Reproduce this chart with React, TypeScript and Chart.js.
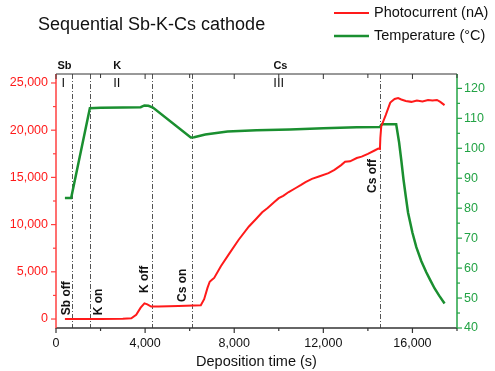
import { useEffect, useRef } from "react";
import { Chart, registerables } from "chart.js";

Chart.register(...registerables);

// ---- data ----
const photoTime = [400, 1000, 2000, 3000, 3380, 3600, 3800, 3970, 4100, 4270, 4600, 5500, 6500, 6650, 6800, 6900, 7000, 7100, 7400, 7770, 8200, 8660, 9000, 9256, 9500, 9800, 10000, 10200, 10446, 10744, 11000, 11200, 11488, 11800, 12232, 12500, 12800, 12976, 13200, 13500, 13720, 14000, 14300, 14464, 14540, 14560, 14600, 14800, 15000, 15060, 15200, 15357, 15500, 15700, 15952, 16200, 16450, 16700, 16900, 17100, 17250, 17440];
const photoValue = [0, 0, 10, 20, 80, 450, 1200, 1660, 1550, 1320, 1320, 1380, 1450, 2100, 3300, 3950, 4150, 4350, 5600, 6900, 8400, 9800, 10650, 11300, 11750, 12400, 12800, 13050, 13450, 13850, 14200, 14500, 14850, 15100, 15450, 15800, 16300, 16650, 16700, 17050, 17200, 17500, 17850, 18050, 18000, 19200, 20400, 21600, 22900, 23050, 23300, 23400, 23250, 23100, 23000, 23150, 23050, 23200, 23150, 23200, 23000, 22650];

const tempTime = [400, 680, 1520, 2000, 3000, 3800, 3970, 4150, 4350, 6050, 6200, 6700, 7700, 9000, 10500, 12000, 13500, 14540, 14620, 15270, 15400, 15500, 15600, 15700, 15804, 16000, 16174, 16400, 16621, 16800, 16996, 17200, 17442];
const tempValue = [83.4, 83.4, 113.4, 113.5, 113.6, 113.7, 114.3, 114.2, 113.6, 103.6, 103.7, 104.6, 105.6, 106.0, 106.3, 106.7, 107.0, 107.1, 108.0, 108.0, 102, 96, 89.5, 84, 78.5, 71.8, 67, 62.3, 58.6, 56, 53.2, 50.8, 48.2];

const xTicks = [0, 2000, 4000, 6000, 8000, 10000, 12000, 14000, 16000, 18000];
const xLabelTicks = [0, 4000, 8000, 12000, 16000];
const leftTicks = [0, 2500, 5000, 7500, 10000, 12500, 15000, 17500, 20000, 22500, 25000];
const leftLabelTicks = [0, 5000, 10000, 15000, 20000, 25000];
const rightTicks = [40, 45, 50, 55, 60, 65, 70, 75, 80, 85, 90, 95, 100, 105, 110, 115, 120];
const rightLabelTicks = [40, 50, 60, 70, 80, 90, 100, 110, 120];

const eventTimes = [700, 1520, 4320, 6100, 14550];
const eventLabels = ["Sb off", "K on", "K off", "Cs on", "Cs off"];
const eventLabelTime = [478, 1933, 3973, 5683, 14196];
const eventLabelValue = [400, 400, 2750, 1800, 13350];

const stageLabels = ["Sb", "K", "Cs"];
const stageTime = [380, 2745, 10075];
const romanLabels = ["I", "II", "III"];
const romanTime = [330, 2730, 10000];
const romanValue = [24900, 24900, 24900];

const RED = "#ff1a1a";
const GREEN = "#1a8f30";
const AXRED = "#ff4040";
const AXGREEN = "#23a345";
const FONT = "'Liberation Sans', Arial, sans-serif";

const overlay = {
  id: "overlay",
  beforeDatasetsDraw(chart: any) {
    const { ctx, chartArea, scales } = chart;
    ctx.save();
    ctx.strokeStyle = "#555";
    ctx.lineWidth = 1;
    ctx.setLineDash([5, 2, 1, 2]);
    eventTimes.forEach((t) => {
      const x = Math.round(scales.x.getPixelForValue(t)) + 0.5;
      ctx.beginPath();
      ctx.moveTo(x, chartArea.top);
      ctx.lineTo(x, chartArea.bottom);
      ctx.stroke();
    });
    ctx.restore();
  },
  afterDraw(chart: any) {
    const { ctx, chartArea, scales } = chart;
    const { left, right, top, bottom } = chartArea;
    ctx.save();
    ctx.setLineDash([]);
    const line = (x1: number, y1: number, x2: number, y2: number, c: string, w: number) => {
      ctx.strokeStyle = c;
      ctx.lineWidth = w;
      ctx.beginPath();
      ctx.moveTo(x1, y1);
      ctx.lineTo(x2, y2);
      ctx.stroke();
    };
    line(left, top, right, top, "#333", 1);
    line(left, bottom, right, bottom, "#333", 1.5);
    line(left, top, left, bottom + 0.75, AXRED, 1.5);
    line(right, top, right, bottom + 0.75, AXGREEN, 1.5);
    xTicks.forEach((v) => {
      const x = scales.x.getPixelForValue(v);
      const major = xLabelTicks.includes(v);
      line(x, bottom, x, bottom + (major ? 5 : 3), "#333", 1.2);
      line(x, top, x, top + (major ? 5 : 4), "#333", 1);
    });
    leftTicks.forEach((v) => {
      const y = scales.y.getPixelForValue(v);
      const major = leftLabelTicks.includes(v);
      line(left, y, left - (major ? 5 : 3), y, AXRED, 1.2);
    });
    rightTicks.forEach((v) => {
      const y = scales.y2.getPixelForValue(v);
      const major = rightLabelTicks.includes(v);
      line(right, y, right + (major ? 5 : 3), y, AXGREEN, 1.2);
    });
    ctx.fillStyle = "#111";
    ctx.font = `bold 12px ${FONT}`;
    ctx.textAlign = "left";
    ctx.textBaseline = "middle";
    eventLabels.forEach((lab, i) => {
      const x = scales.x.getPixelForValue(eventLabelTime[i]);
      const y = scales.y.getPixelForValue(eventLabelValue[i]);
      ctx.save();
      ctx.translate(x, y);
      ctx.rotate(-Math.PI / 2);
      ctx.fillText(lab, 0, 0);
      ctx.restore();
    });
    ctx.textAlign = "center";
    ctx.font = `bold 11px ${FONT}`;
    stageLabels.forEach((lab, i) => {
      ctx.fillText(lab, scales.x.getPixelForValue(stageTime[i]), top - 8);
    });
    ctx.font = `13px ${FONT}`;
    romanLabels.forEach((lab, i) => {
      ctx.fillText(lab, scales.x.getPixelForValue(romanTime[i]), scales.y.getPixelForValue(romanValue[i]));
    });
    ctx.textAlign = "left";
    ctx.fillStyle = "#111";
    ctx.font = `18px ${FONT}`;
    ctx.fillText("Sequential Sb-K-Cs cathode", 38, 25);
    ctx.font = `14.5px ${FONT}`;
    line(334, 13, 369, 13, RED, 2);
    line(334, 36, 369, 36, GREEN, 2.5);
    ctx.fillStyle = "#111";
    ctx.fillText("Photocurrent (nA)", 374, 13);
    ctx.fillText("Temperature (\u00B0C)", 374, 36);
    ctx.restore();
  },
};

export default function App() {
  const ref = useRef<HTMLCanvasElement | null>(null);
  useEffect(() => {
    if (!ref.current) return;
    const chart = new Chart(ref.current, {
      type: "line",
      data: {
        datasets: [
          {
            label: "Photocurrent (nA)",
            data: photoTime.map((t, i) => ({ x: t, y: photoValue[i] })),
            borderColor: RED,
            borderWidth: 2,
            pointRadius: 0,
            yAxisID: "y",
            xAxisID: "x",
          },
          {
            label: "Temperature (\u00B0C)",
            data: tempTime.map((t, i) => ({ x: t, y: tempValue[i] })),
            borderColor: GREEN,
            borderWidth: 2.5,
            pointRadius: 0,
            yAxisID: "y2",
            xAxisID: "x",
          },
        ],
      },
      options: {
        responsive: false,
        animation: false,
        devicePixelRatio: 1,
        layout: { padding: { top: 74, left: 0, right: 0, bottom: 0 } },
        plugins: { legend: { display: false }, tooltip: { enabled: false }, title: { display: false } },
        scales: {
          x: {
            type: "linear",
            position: "bottom",
            min: 0,
            max: 18000,
            afterBuildTicks: (axis: any) => {
              axis.ticks = xTicks.map((v) => ({ value: v }));
            },
            afterFit: (s: any) => {
              s.height = 43;
            },
            grid: { display: false, drawTicks: false },
            border: { display: false },
            ticks: {
              autoSkip: false,
              maxRotation: 0,
              padding: 8,
              color: "#111",
              font: { family: FONT, size: 12.5 },
              callback: (v: any) => (xLabelTicks.includes(v) ? Number(v).toLocaleString("en-US") : ""),
            },
            title: {
              display: true,
              text: "Deposition time (s)",
              color: "#111",
              font: { family: FONT, size: 14.5 },
              padding: { top: 2, bottom: 0 },
            },
          },
          y: {
            type: "linear",
            position: "left",
            min: -950,
            max: 25950,
            afterBuildTicks: (axis: any) => {
              axis.ticks = leftTicks.map((v) => ({ value: v }));
            },
            afterFit: (s: any) => {
              s.width = 56;
            },
            grid: { display: false, drawTicks: false },
            border: { display: false },
            ticks: {
              autoSkip: false,
              padding: 8,
              color: RED,
              font: { family: FONT, size: 12.5 },
              callback: (v: any) => (leftLabelTicks.includes(v) ? Number(v).toLocaleString("en-US") : ""),
            },
          },
          y2: {
            type: "linear",
            position: "right",
            min: 40,
            max: 124.8,
            afterBuildTicks: (axis: any) => {
              axis.ticks = rightTicks.map((v) => ({ value: v }));
            },
            afterFit: (s: any) => {
              s.width = 38;
            },
            grid: { display: false, drawTicks: false },
            border: { display: false },
            ticks: {
              autoSkip: false,
              padding: 7,
              color: AXGREEN,
              font: { family: FONT, size: 12.5 },
              callback: (v: any) => (rightLabelTicks.includes(v) ? String(v) : ""),
            },
          },
        },
      },
      plugins: [overlay],
    } as any);
    return () => chart.destroy();
  }, []);
  return (
    <div style={{ position: "fixed", left: 0, top: 0, width: 495, height: 371, background: "#fff" }}>
      <canvas ref={ref} width={495} height={371} />
    </div>
  );
}
